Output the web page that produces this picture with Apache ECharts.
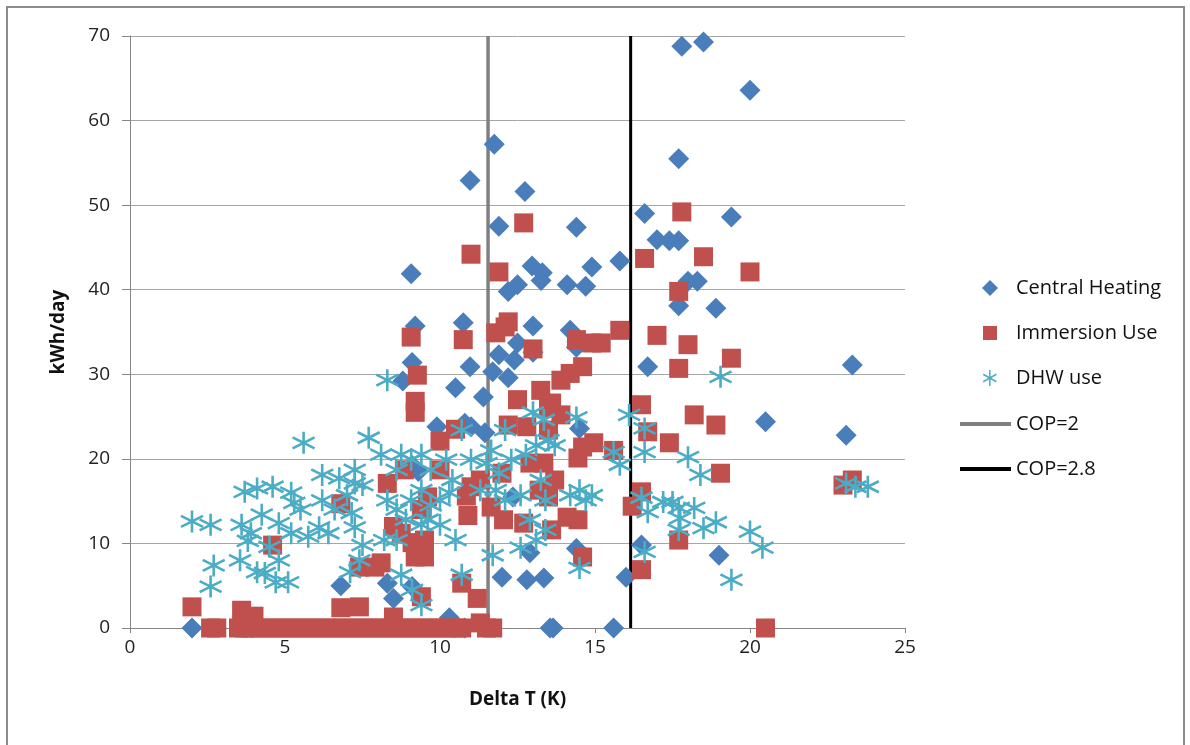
<!DOCTYPE html>
<html>
<head>
<meta charset="utf-8">
<script src="https://cdn.jsdelivr.net/npm/echarts@6/dist/echarts.min.js"></script>
<style>
html,body{margin:0;padding:0;background:#fff;}
#chart{width:1190px;height:745px;}
</style>
</head>
<body>
<div id="chart"></div>
<script>
// ---- data ----
const centralHeating = [
  [2.0,0],[6.8,5.0],[8.3,5.3],[8.5,3.5],[9.1,4.9],[10.3,1.2],[10.8,0],[9.1,19.2],[9.3,18.5],
  [9.9,23.8],[10.8,24.2],[11.0,23.8],[11.45,23.1],[8.8,29.2],[9.1,31.4],[9.2,35.7],[9.07,41.9],
  [10.5,28.4],[10.75,36.1],[10.97,30.9],[10.97,52.9],[11.4,27.3],[11.7,30.3],[11.9,32.3],[11.9,47.5],
  [11.75,57.2],[12.2,29.6],[12.2,39.8],[12.4,31.7],[12.5,40.6],[12.5,33.7],[12.74,51.6],[12.97,42.8],
  [13.0,35.7],[13.0,32.6],[13.26,41.1],[13.3,42.0],[14.1,40.6],[14.2,35.2],[14.4,33.2],[14.4,47.4],
  [14.7,40.4],[14.9,42.7],[15.8,43.4],[14.5,23.6],[12.35,15.5],[12.0,6.0],[12.8,5.7],[13.35,5.9],
  [12.9,8.9],[14.4,9.4],[13.55,0],[13.65,0],[15.6,0],[16.0,6.0],[16.5,9.8],[16.6,49.0],[16.7,30.9],
  [17.0,45.9],[17.4,45.8],[17.7,45.8],[17.7,38.1],[17.7,55.5],[17.8,68.8],[18.0,41.0],[18.3,41.0],
  [18.5,69.3],[18.9,37.8],[19.4,48.6],[19.0,8.6],[20.0,63.6],[20.5,24.4],[23.1,22.8],[23.3,31.1]
];
const immersionUse = [
  [2.6,0],[2.8,0],[3.5,0],[3.7,0],[3.9,0],[4.2,0],[4.5,0],[4.8,0],[5.1,0],[5.4,0],[5.7,0],[6.0,0],
  [6.3,0],[6.6,0],[6.9,0],[7.2,0],[7.5,0],[7.8,0],[8.1,0],[8.4,0],[8.7,0],[9.0,0],[9.3,0],[9.6,0],
  [9.9,0],[10.2,0],[10.5,0],[10.7,0],[11.5,0],[11.7,0],[20.5,0],
  [2.0,2.5],[3.6,2.1],[4.0,1.4],[6.8,2.4],[7.4,2.5],[8.5,1.3],[9.4,3.7],[4.6,9.8],[6.8,14.7],
  [7.4,7.2],[7.9,7.2],[8.1,7.7],[9.2,8.4],[9.5,8.4],[8.75,11.2],[9.1,10.1],[9.5,10.4],[8.5,12.0],
  [9.4,14.0],[9.6,15.5],[8.3,17.1],[8.85,18.7],[9.2,25.5],[9.2,26.8],[9.27,29.9],[9.07,34.4],
  [10.0,22.1],[10.5,23.5],[10.75,34.1],[11.0,44.2],[11.8,34.9],[12.1,35.6],[12.2,36.2],[11.9,42.1],
  [12.7,47.9],[11.0,16.7],[10.9,13.3],[10.7,5.3],[11.2,3.5],[11.3,0.6],[10.85,15.6],[10.0,18.7],
  [11.3,17.5],[12.0,18.3],[11.65,14.3],[12.05,12.8],[12.7,12.4],[13.6,11.6],[12.2,24.0],[12.8,23.8],
  [12.5,27.0],[13.25,28.1],[13.0,33.0],[13.5,26.0],[13.6,26.6],[13.9,25.2],[13.9,29.3],[14.2,30.1],
  [14.6,30.9],[14.4,34.1],[14.9,33.7],[15.2,33.7],[15.8,35.2],[13.5,23.4],[14.45,20.1],[14.6,21.4],
  [14.96,21.9],[15.6,21.0],[13.5,15.5],[12.9,19.5],[13.35,19.5],[13.7,17.5],[13.2,16.3],[14.1,13.1],
  [14.45,12.8],[14.6,8.4],[16.2,14.4],[16.5,16.1],[16.5,6.9],[16.5,26.4],[16.7,23.2],[17.4,21.9],
  [17.7,10.4],[18.2,25.2],[18.9,24.0],[19.05,18.3],[16.6,43.7],[17.8,49.2],[18.5,43.9],[20.0,42.1],
  [17.7,39.8],[17.0,34.6],[18.0,33.5],[19.4,31.9],[17.7,30.7],[23.0,16.9],[23.3,17.5]
];
const dhwUse = [
  [2.0,12.6],[2.6,12.2],[2.7,7.4],[2.6,4.9],[3.55,8.0],[3.6,12.2],[3.7,16.1],[4.1,16.5],[4.6,16.7],
  [3.9,11.2],[3.8,10.3],[4.25,13.4],[4.5,9.6],[4.35,6.5],[4.1,6.6],[4.7,5.4],[5.1,5.4],[4.8,8.0],
  [4.8,12.4],[5.2,11.2],[5.2,16.0],[5.3,14.8],[5.5,14.0],[5.6,21.9],[5.75,10.8],[6.1,11.9],[6.4,11.2],
  [6.2,15.1],[6.2,18.1],[6.6,14.0],[6.75,17.7],[7.15,13.6],[7.25,18.7],[7.25,17.1],[7.25,11.9],
  [7.0,15.7],[7.5,16.9],[7.5,9.8],[7.4,8.0],[7.1,6.6],[7.7,22.5],[8.3,29.3],[8.1,20.5],[8.6,18.7],
  [8.75,20.5],[9.07,19.9],[9.4,20.5],[8.3,15.1],[8.6,14.0],[9.07,15.1],[9.4,16.3],[9.7,14.5],
  [10.0,15.1],[8.9,12.8],[9.6,12.8],[10.0,12.2],[8.75,6.3],[9.1,4.5],[9.4,2.7],[10.5,10.4],
  [10.7,6.3],[10.7,23.4],[11.0,19.9],[11.65,21.0],[11.3,16.3],[11.8,16.3],[11.7,8.6],[12.1,23.4],
  [12.3,19.9],[12.1,15.1],[12.6,15.7],[12.77,20.5],[13.0,25.5],[13.35,24.6],[13.1,21.6],[13.5,22.2],
  [13.7,21.6],[13.25,17.5],[13.4,15.1],[12.9,12.8],[13.4,11.6],[13.1,10.4],[12.6,9.5],[14.2,15.7],
  [14.5,16.3],[14.7,15.1],[14.9,15.7],[14.4,24.9],[14.5,7.1],[15.6,20.8],[15.8,19.3],[16.1,25.2],
  [16.6,23.6],[16.6,20.8],[16.5,15.4],[16.7,13.7],[17.2,14.9],[17.5,14.9],[17.7,14.2],[17.75,13.0],
  [17.7,11.6],[18.2,14.2],[18.0,20.2],[18.4,18.1],[18.5,11.8],[18.9,12.5],[19.05,29.7],[19.4,5.7],
  [20.0,11.4],[20.4,9.5],[16.6,9.0],[23.1,17.1],[23.4,16.7],[23.8,16.7],
  [9.7,18.7],[10.2,19.9],[10.4,17.5],[11.5,19.5],[11.9,18.3],[8.6,10.4],[8.2,10.4],[9.4,12.2],[10.3,16.0]
];
const cop2X = 11.55;
const cop28X = 16.15;
const yRange = [0, 70];
const seriesNames = ['Central Heating','Immersion Use','DHW use','COP=2','COP=2.8'];

// ---- chart ----
const font = '"Open Sans", "DejaVu Sans", sans-serif';
const chart = echarts.init(document.getElementById('chart'));
const asterisk = 'path://M10,0L10,20M1.34,5L18.66,15M1.34,15L18.66,5';
// legend icons padded to a 48x16 box so the marker sits left of the text like the original
const legDiamond = 'path://M0,8L0,8M19,8L27,0L35,8L27,16ZM48,8L48,8';
const legSquare = 'path://M0,8L0,8M20,1L34,1L34,15L20,15ZM48,8L48,8';
const legStar = 'path://M0,8L0,8M27,-0.5L27,16.5M20,4L34,12M20,12L34,4M48,8L48,8';
const legendText = {fontSize: 20, color: '#111', fontFamily: font, lineHeight: 20};
chart.setOption({
  animation: false,
  backgroundColor: '#fff',
  textStyle: {fontFamily: font},
  graphic: [{
    type: 'rect', shape: {x: 7, y: 7, width: 1177, height: 760},
    style: {fill: 'none', stroke: '#8c8c8c', lineWidth: 2}, z: -1
  }],
  grid: {left: 130, top: 36, right: 285, bottom: 117, containLabel: false},
  legend: [{
    orient: 'vertical', left: 958, top: 273,
    itemWidth: 48, itemHeight: 16, itemGap: 25,
    data: [
      {name: seriesNames[0], icon: legDiamond},
      {name: seriesNames[1], icon: legSquare},
      {name: seriesNames[2], icon: legStar, itemStyle: {color: 'rgba(0,0,0,0)', borderColor: '#4bacc6', borderWidth: 1.5}}
    ],
    textStyle: legendText
  }, {
    orient: 'vertical', left: 955, top: 409,
    itemWidth: 51, itemHeight: 4, itemGap: 25,
    data: [
      {name: seriesNames[3], icon: 'rect'},
      {name: seriesNames[4], icon: 'rect'}
    ],
    textStyle: legendText
  }],
  xAxis: {
    type: 'value', min: 0, max: 25, interval: 5,
    name: 'Delta T (K)', nameLocation: 'middle', nameGap: 62,
    nameTextStyle: {fontSize: 19, fontWeight: 'bold', color: '#111'},
    axisLine: {lineStyle: {color: '#868686', width: 1}},
    axisTick: {show: true, length: 5, lineStyle: {color: '#868686'}},
    axisLabel: {fontSize: 19, color: '#222', margin: 10},
    splitLine: {show: false}
  },
  yAxis: {
    type: 'value', min: yRange[0], max: yRange[1], interval: 10,
    name: 'kWh/day', nameLocation: 'middle', nameGap: 62,
    nameTextStyle: {fontSize: 19, fontWeight: 'bold', color: '#111'},
    axisLine: {show: true, lineStyle: {color: '#868686', width: 1}},
    axisTick: {show: true, length: 8, lineStyle: {color: '#868686'}},
    axisLabel: {fontSize: 19, color: '#222', margin: 20},
    splitLine: {lineStyle: {color: '#a6a6a6', width: 1}}
  },
  series: [
    {
      name: seriesNames[0], type: 'scatter', data: centralHeating,
      symbol: 'diamond', symbolSize: 21,
      itemStyle: {color: '#4a7ebb', opacity: 1}, z: 3
    },
    {
      name: seriesNames[1], type: 'scatter', data: immersionUse,
      symbol: 'rect', symbolSize: 19,
      itemStyle: {color: '#c0504d', opacity: 1}, z: 4
    },
    {
      name: seriesNames[2], type: 'scatter', data: dhwUse,
      symbol: asterisk, symbolSize: 22,
      itemStyle: {color: 'rgba(0,0,0,0)', borderColor: '#4bacc6', borderWidth: 2.6, opacity: 1}, z: 5
    },
    {
      name: seriesNames[3], type: 'line', data: [[cop2X, yRange[0]], [cop2X, yRange[1]]],
      symbol: 'none', showSymbol: false,
      lineStyle: {color: '#808080', width: 3.5}, itemStyle: {color: '#808080'}, z: 2
    },
    {
      name: seriesNames[4], type: 'line', data: [[cop28X, yRange[0]], [cop28X, yRange[1]]],
      symbol: 'none', showSymbol: false,
      lineStyle: {color: '#000', width: 3}, itemStyle: {color: '#000'}, z: 2
    }
  ]
});
</script>
</body>
</html>
